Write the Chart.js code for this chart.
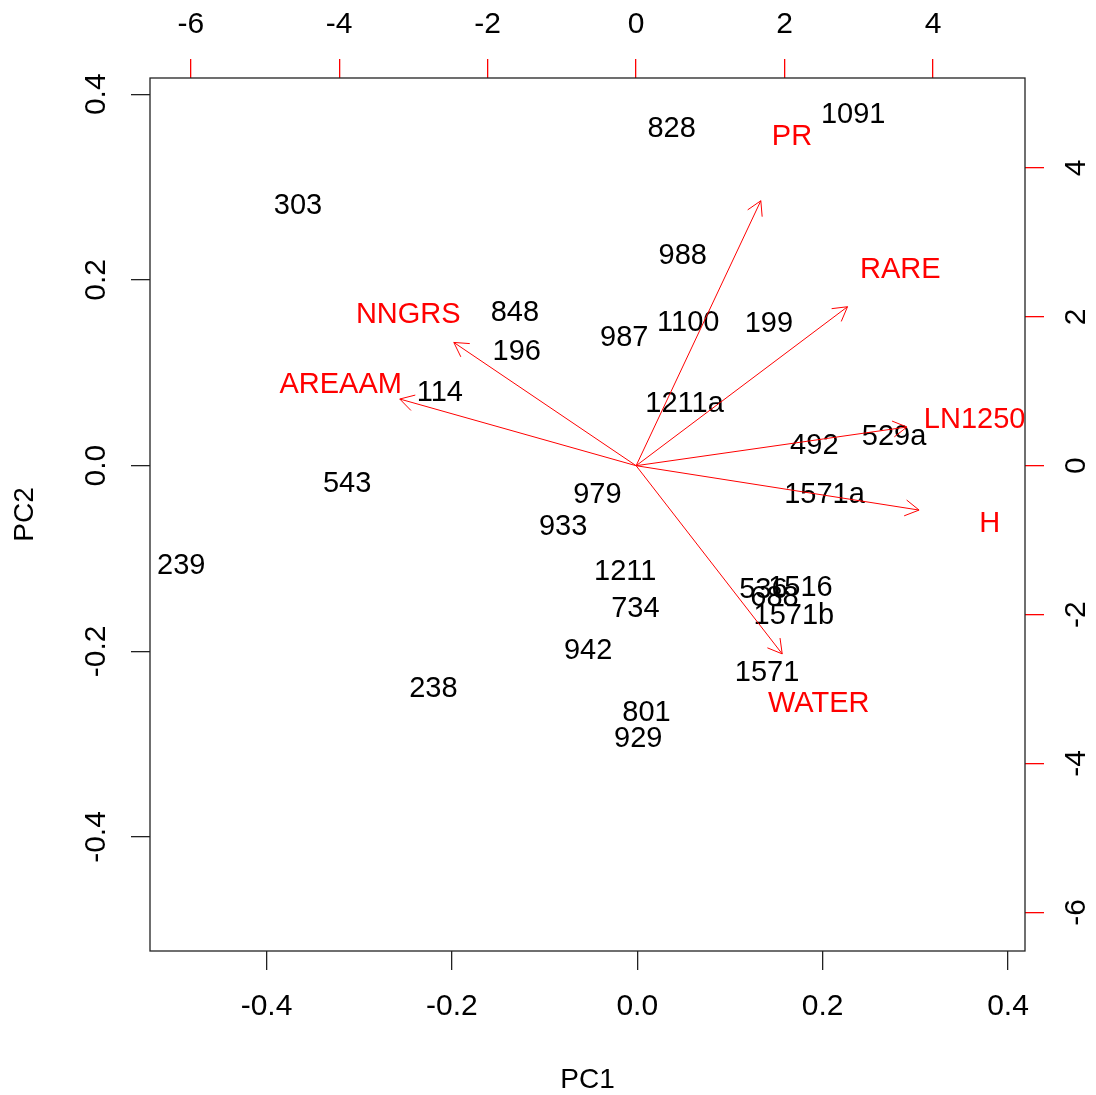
<!DOCTYPE html>
<html>
<head>
<meta charset="utf-8">
<script src="https://cdn.jsdelivr.net/npm/chart.js"></script>
<style>
  html, body { margin: 0; padding: 0; background: #fff; }
  canvas { display: block; }
</style>
</head>
<body>
<canvas id="Biplot" width="1096" height="1095"></canvas>
<script>
// site scores on PC1 / PC2 (bottom / left axes)
var siteNames = ["1091", "828", "303", "988", "848", "196", "987", "1100", "199", "114",
  "1211a", "492", "529a", "543", "979", "1571a", "933", "239", "1211", "1516",
  "536", "688", "1571b", "734", "942", "1571", "238", "801", "929"];
var pc1 = [0.233, 0.037, -0.366, 0.049, -0.132, -0.130, -0.014, 0.055, 0.142, -0.213,
  0.051, 0.191, 0.277, -0.313, -0.043, 0.202, -0.080, -0.492, -0.013, 0.176,
  0.136, 0.148, 0.169, -0.002, -0.053, 0.140, -0.220, 0.010, 0.001];
var pc2 = [0.380, 0.365, 0.282, 0.228, 0.166, 0.125, 0.140, 0.156, 0.155, 0.080,
  0.068, 0.023, 0.033, -0.018, -0.029, -0.030, -0.064, -0.106, -0.112, -0.130,
  -0.132, -0.140, -0.160, -0.152, -0.198, -0.221, -0.238, -0.264, -0.292];

// variable loadings (top / right axes)
var varNames = ["PR", "RARE", "NNGRS", "AREAAM", "LN1250", "H", "WATER"];
var loadX = [2.10, 3.56, -3.07, -3.98, 4.56, 4.765, 2.46];
var loadY = [4.45, 2.67, 2.07, 1.12, 0.65, -0.745, -3.16];

var pcTicks = [-0.4, -0.2, 0, 0.2, 0.4];
var loadTicks = [-6, -4, -2, 0, 2, 4];

var FONT = '29px "Liberation Sans", Arial, sans-serif';
var TICKFONT = '30px "Liberation Sans", Arial, sans-serif';
var TITLEFONT = '28px "Liberation Sans", Arial, sans-serif';
var DY = 2; // nudge so glyphs sit centred like R's text()

function fixTicks(list) {
  return function (s) { s.ticks = list.map(function (v) { return { value: v }; }); };
}

var arrowSets = varNames.map(function (n, i) {
  return {
    label: n,
    data: [{ x: 0, y: 0 }, { x: 0.8 * loadX[i], y: 0.8 * loadY[i] }],
    xAxisID: "x2",
    yAxisID: "y2",
    showLine: true,
    borderColor: "red",
    borderWidth: 1,
    pointRadius: 0,
  };
});

var biplotText = {
  id: "biplotText",
  beforeDatasetsDraw: function (chart) {
    var c = chart.ctx, sx = chart.scales.x, sy = chart.scales.y;
    c.save();
    c.font = FONT;
    c.fillStyle = "#000";
    c.textAlign = "center";
    c.textBaseline = "middle";
    siteNames.forEach(function (n, i) {
      c.fillText(n, sx.getPixelForValue(pc1[i]), sy.getPixelForValue(pc2[i]) + DY);
    });
    c.restore();
  },
  afterDatasetsDraw: function (chart) {
    var c = chart.ctx, a = chart.chartArea;
    var sx = chart.scales.x, sy = chart.scales.y, sx2 = chart.scales.x2, sy2 = chart.scales.y2;
    c.save();
    // arrow heads
    c.strokeStyle = "red";
    c.lineWidth = 1;
    varNames.forEach(function (n, i) {
      var pts = chart.getDatasetMeta(i + 1).data;
      var x0 = pts[0].x, y0 = pts[0].y, x1 = pts[1].x, y1 = pts[1].y;
      var ang = Math.atan2(y1 - y0, x1 - x0), len = 16, spread = Math.PI / 6;
      c.beginPath();
      c.moveTo(x1 - len * Math.cos(ang - spread), y1 - len * Math.sin(ang - spread));
      c.lineTo(x1, y1);
      c.lineTo(x1 - len * Math.cos(ang + spread), y1 - len * Math.sin(ang + spread));
      c.stroke();
    });
    // variable names
    c.font = FONT;
    c.fillStyle = "red";
    c.textAlign = "center";
    c.textBaseline = "middle";
    varNames.forEach(function (n, i) {
      c.fillText(n, sx2.getPixelForValue(loadX[i]), sy2.getPixelForValue(loadY[i]) + DY + 1);
    });
    // box
    c.strokeStyle = "#222";
    c.lineWidth = 1.3;
    c.strokeRect(a.left, a.top, a.right - a.left, a.bottom - a.top);
    // tick labels
    c.fillStyle = "#000";
    c.font = TICKFONT;
    sx.ticks.forEach(function (t) {
      c.fillText(t.value.toFixed(1), sx.getPixelForValue(t.value), 1007);
    });
    sx2.ticks.forEach(function (t) {
      c.fillText(String(t.value), sx2.getPixelForValue(t.value), 25);
    });
    sy.ticks.forEach(function (t) {
      c.save();
      c.translate(97, sy.getPixelForValue(t.value));
      c.rotate(-Math.PI / 2);
      c.fillText(t.value.toFixed(1), 0, 0);
      c.restore();
    });
    sy2.ticks.forEach(function (t) {
      c.save();
      c.translate(1077, sy2.getPixelForValue(t.value));
      c.rotate(-Math.PI / 2);
      c.fillText(String(t.value), 0, 0);
      c.restore();
    });
    // axis titles
    c.font = TITLEFONT;
    c.fillText("PC1", (a.left + a.right) / 2, 1080);
    c.translate(25, (a.top + a.bottom) / 2);
    c.rotate(-Math.PI / 2);
    c.fillText("PC2", 0, 0);
    c.restore();
  },
};

var ctx = document.getElementById("Biplot").getContext("2d");
var myChart = new Chart(ctx, {
  type: "scatter",
  data: {
    datasets: [
      {
        label: "sites",
        data: siteNames.map(function (n, i) { return { x: pc1[i], y: pc2[i] }; }),
        pointRadius: 0,
        xAxisID: "x",
        yAxisID: "y",
      },
    ].concat(arrowSets),
  },
  options: {
    responsive: false,
    animation: false,
    events: [],
    layout: { padding: 0 },
    plugins: { legend: { display: false }, tooltip: { enabled: false } },
    scales: {
      x: {
        type: "linear", position: "bottom", min: -0.5257, max: 0.4183,
        afterBuildTicks: fixTicks(pcTicks),
        afterFit: function (s) { s.height = 144; },
        ticks: { display: false },
        border: { display: false },
        grid: { drawOnChartArea: false, tickLength: 19, color: "#222", lineWidth: 1.3 },
      },
      y: {
        type: "linear", position: "left", min: -0.5228, max: 0.4175,
        afterBuildTicks: fixTicks(pcTicks),
        afterFit: function (s) { s.width = 150; },
        ticks: { display: false },
        border: { display: false },
        grid: { drawOnChartArea: false, tickLength: 19, color: "#222", lineWidth: 1.3 },
      },
      x2: {
        type: "linear", position: "top", min: -6.549, max: 5.239,
        afterBuildTicks: fixTicks(loadTicks),
        afterFit: function (s) { s.height = 78; },
        ticks: { display: false },
        border: { display: false },
        grid: { drawOnChartArea: false, tickLength: 19, color: "red", lineWidth: 1.3 },
      },
      y2: {
        type: "linear", position: "right", min: -6.520, max: 5.209,
        afterBuildTicks: fixTicks(loadTicks),
        afterFit: function (s) { s.width = 71; },
        ticks: { display: false },
        border: { display: false },
        grid: { drawOnChartArea: false, tickLength: 19, color: "red", lineWidth: 1.3 },
      },
    },
  },
  plugins: [biplotText],
});
</script>
</body>
</html>
